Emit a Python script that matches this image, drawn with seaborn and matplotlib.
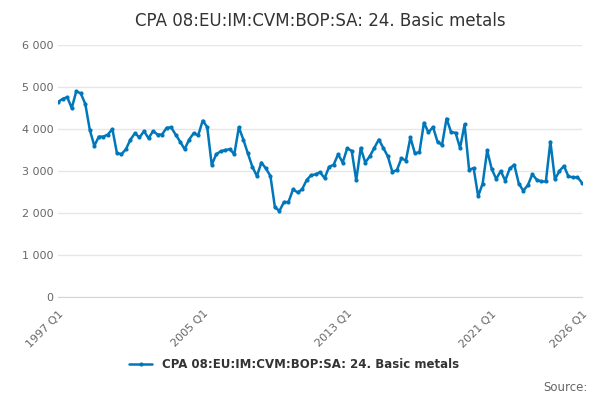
import matplotlib
matplotlib.use('Agg')
import matplotlib.pyplot as plt
import seaborn as sns
import pandas as pd
from matplotlib.ticker import FuncFormatter

# quarterly values 1997 Q1 .. 2026 Q1
values = [
    4650, 4720, 4760, 4500,
    4900, 4850, 4600, 3980,
    3600, 3820, 3820, 3870,
    4000, 3430, 3400, 3520,
    3750, 3900, 3800, 3950,
    3780, 3950, 3870, 3870,
    4030, 4040, 3870, 3700,
    3520, 3750, 3900, 3850,
    4200, 4050, 3150, 3400,
    3470, 3500, 3520, 3400,
    4040, 3750, 3420, 3100,
    2880, 3200, 3060, 2880,
    2130, 2050, 2260, 2260,
    2560, 2490, 2560, 2780,
    2900, 2920, 2970, 2830,
    3100, 3150, 3400, 3200,
    3540, 3480, 2780, 3550,
    3200, 3350, 3550, 3750,
    3550, 3350, 2980, 3020,
    3300, 3250, 3800, 3420,
    3450, 4150, 3920, 4050,
    3700, 3620, 4250, 3930,
    3910, 3550, 4110, 3030,
    3070, 2400, 2700, 3490,
    3050, 2810, 3000, 2770,
    3060, 3150, 2700, 2530,
    2660, 2920, 2790, 2750,
    2750, 3700, 2800, 3000,
    3120, 2870, 2850, 2850,
    2720,
]
periods = [f"{1997 + i // 4} Q{i % 4 + 1}" for i in range(len(values))]
tick_labels = ["1997 Q1", "2005 Q1", "2013 Q1", "2021 Q1", "2026 Q1"]
series_name = "CPA 08:EU:IM:CVM:BOP:SA: 24. Basic metals"

df = pd.DataFrame({'idx': range(len(values)), 'value': values})

sns.set_style('white')
plt.rcParams['font.family'] = ['DejaVu Sans']

fig, ax = plt.subplots(figsize=(6, 4), dpi=100)
sns.lineplot(data=df, x='idx', y='value', ax=ax, color='#0077bb', linewidth=1.8,
             marker='o', markersize=3, markeredgewidth=0, label=series_name)

ax.set_ylim(0, 6000)
ax.set_yticks(range(0, 6001, 1000))
ax.yaxis.set_major_formatter(FuncFormatter(lambda v, p: f"{int(v):,}".replace(',', ' ')))
ax.grid(axis='y', color='#e6e6e6', linewidth=1)
ax.set_xlim(0, len(values) - 1)
ax.set_xticks([periods.index(t) for t in tick_labels])
ax.set_xticklabels(tick_labels, rotation=45, ha='right', rotation_mode='anchor')
ax.tick_params(axis='both', labelsize=8, colors='#666666', length=0)
ax.tick_params(axis='x', length=5, color='#ccd6eb')
for s in ['top', 'right', 'left']:
    ax.spines[s].set_visible(False)
ax.spines['bottom'].set_color('#ccd6eb')
ax.set_xlabel('')
ax.set_ylabel('')

ax.set_title(series_name, fontsize=12, color='#333333', pad=14)
leg = ax.legend(loc='upper center', bbox_to_anchor=(0.45, -0.2), frameon=False, fontsize=8.5)
for t in leg.get_texts():
    t.set_fontweight('bold')
    t.set_color('#333333')
fig.text(0.98, 0.015, "Source:", ha='right', va='bottom', fontsize=8.5, color='#666666')

fig.subplots_adjust(left=0.097, right=0.97, top=0.887, bottom=0.258)
fig.savefig('out.png')
